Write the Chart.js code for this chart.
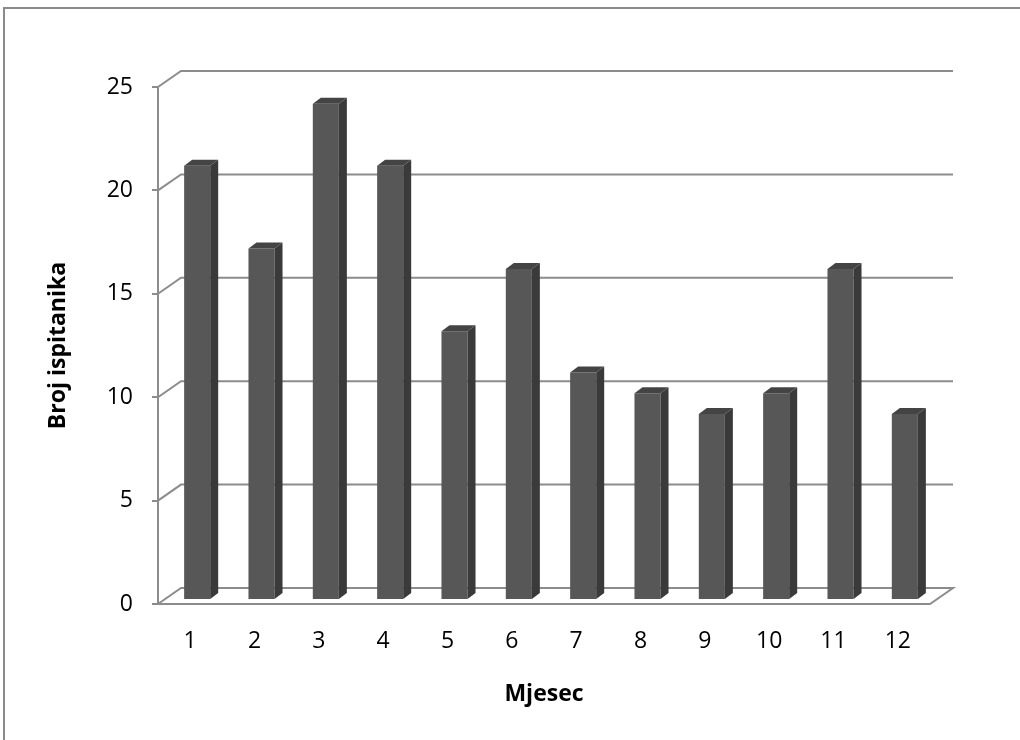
<!DOCTYPE html>
<html>
<head>
<meta charset="utf-8">
<script src="https://cdn.jsdelivr.net/npm/chart.js@4/dist/chart.umd.min.js"></script>
<style>
  html, body { margin: 0; padding: 0; background: #fff; }
  #wrap { width: 1020px; height: 740px; }
</style>
</head>
<body>
<div id="wrap"><canvas id="graph" width="1020" height="740"></canvas></div>
<script>
// Data
var months = ['1', '2', '3', '4', '5', '6', '7', '8', '9', '10', '11', '12'];
var respondents = [21, 17, 24, 21, 13, 16, 11, 10, 9, 10, 16, 9];
var yTicks = [0, 5, 10, 15, 20, 25];

// 3D look: back wall offset and bar depth
var wallDx = 23, wallDy = -16;
var barShiftX = 7, barShiftY = -4;
var barDx = 8, barDy = -6;
var lineGray = '#8c8c8c';

var fakeThreeD = {
    id: 'fakeThreeD',
    beforeDraw: function (chart) {
        var ctx = chart.ctx;
        // outer frame (only top and left visible)
        ctx.save();
        ctx.strokeStyle = '#8a8a8a';
        ctx.lineWidth = 2;
        ctx.beginPath();
        ctx.moveTo(4, 742);
        ctx.lineTo(4, 8);
        ctx.lineTo(1022, 8);
        ctx.stroke();
        ctx.restore();
    },
    beforeDatasetsDraw: function (chart) {
        var ctx = chart.ctx;
        var area = chart.chartArea;
        var y = chart.scales.y;
        ctx.save();
        ctx.strokeStyle = lineGray;
        ctx.lineWidth = 2;
        // back wall grid lines
        yTicks.forEach(function (v) {
            if (v === 0) return;
            var py = y.getPixelForValue(v);
            ctx.beginPath();
            ctx.moveTo(area.left, py);
            ctx.lineTo(area.left + wallDx, py + wallDy);
            ctx.lineTo(area.right + wallDx, py + wallDy);
            ctx.stroke();
        });
        // floor
        var p0 = y.getPixelForValue(0);
        ctx.beginPath();
        ctx.moveTo(area.left, p0);
        ctx.lineTo(area.left + wallDx, p0 + wallDy);
        ctx.lineTo(area.right + wallDx, p0 + wallDy);
        ctx.lineTo(area.right, p0);
        ctx.closePath();
        ctx.stroke();
        ctx.restore();
    },
    beforeDatasetDraw: function (chart) {
        chart.ctx.save();
        chart.ctx.translate(barShiftX, barShiftY);
    },
    afterDatasetDraw: function (chart, args) {
        var ctx = chart.ctx;
        args.meta.data.forEach(function (bar) {
            var p = bar.getProps(['x', 'y', 'base', 'width'], true);
            var l = p.x - p.width / 2, r = p.x + p.width / 2;
            // side face
            ctx.fillStyle = '#3a3a3a';
            ctx.beginPath();
            ctx.moveTo(r, p.y);
            ctx.lineTo(r + barDx, p.y + barDy);
            ctx.lineTo(r + barDx, p.base + barDy);
            ctx.lineTo(r, p.base);
            ctx.closePath();
            ctx.fill();
            // top face
            ctx.fillStyle = '#444444';
            ctx.beginPath();
            ctx.moveTo(l, p.y);
            ctx.lineTo(l + barDx, p.y + barDy);
            ctx.lineTo(r + barDx, p.y + barDy);
            ctx.lineTo(r, p.y);
            ctx.closePath();
            ctx.fill();
        });
        ctx.restore();
    }
};

function drawGraph() {
    var graphElement = document.getElementById('graph');
    new Chart(graphElement, {
        type: 'bar',
        data: {
            labels: months,
            datasets: [{
                label: 'Broj ispitanika',
                data: respondents,
                backgroundColor: '#575757',
                borderWidth: 0,
                categoryPercentage: 1,
                barPercentage: 0.405,
                clip: false
            }]
        },
        plugins: [fakeThreeD],
        options: {
            responsive: false,
            animation: false,
            events: [],
            layout: { padding: { left: 0, top: 87, right: 90, bottom: 0 } },
            plugins: {
                legend: { display: false },
                tooltip: { enabled: false }
            },
            scales: {
                x: {
                    grid: { display: false },
                    border: { display: false },
                    ticks: {
                        color: '#000',
                        padding: 16,
                        maxRotation: 0,
                        font: { family: 'Open Sans', size: 23 }
                    },
                    title: {
                        display: true,
                        text: 'Mjesec',
                        color: '#000',
                        padding: { top: 32, bottom: 32 },
                        font: { family: 'Open Sans', size: 23, weight: 'bold' }
                    },
                    afterFit: function (scale) { scale.height = 136; }
                },
                y: {
                    min: 0,
                    max: 25,
                    afterBuildTicks: function (scale) {
                        scale.ticks = yTicks.map(function (v) { return { value: v }; });
                    },
                    grid: {
                        drawOnChartArea: false,
                        drawTicks: true,
                        tickLength: 6,
                        color: lineGray,
                        lineWidth: 2
                    },
                    border: { display: true, color: lineGray, width: 2 },
                    ticks: {
                        color: '#000',
                        padding: 19,
                        font: { family: 'Open Sans', size: 23 }
                    },
                    title: {
                        display: true,
                        text: 'Broj ispitanika',
                        color: '#000',
                        padding: { top: 45, bottom: 45 },
                        font: { family: 'Open Sans', size: 23, weight: 'bold' }
                    },
                    afterFit: function (scale) { scale.width = 158; }
                }
            }
        }
    });
}

window.onload = drawGraph;
</script>
</body>
</html>
